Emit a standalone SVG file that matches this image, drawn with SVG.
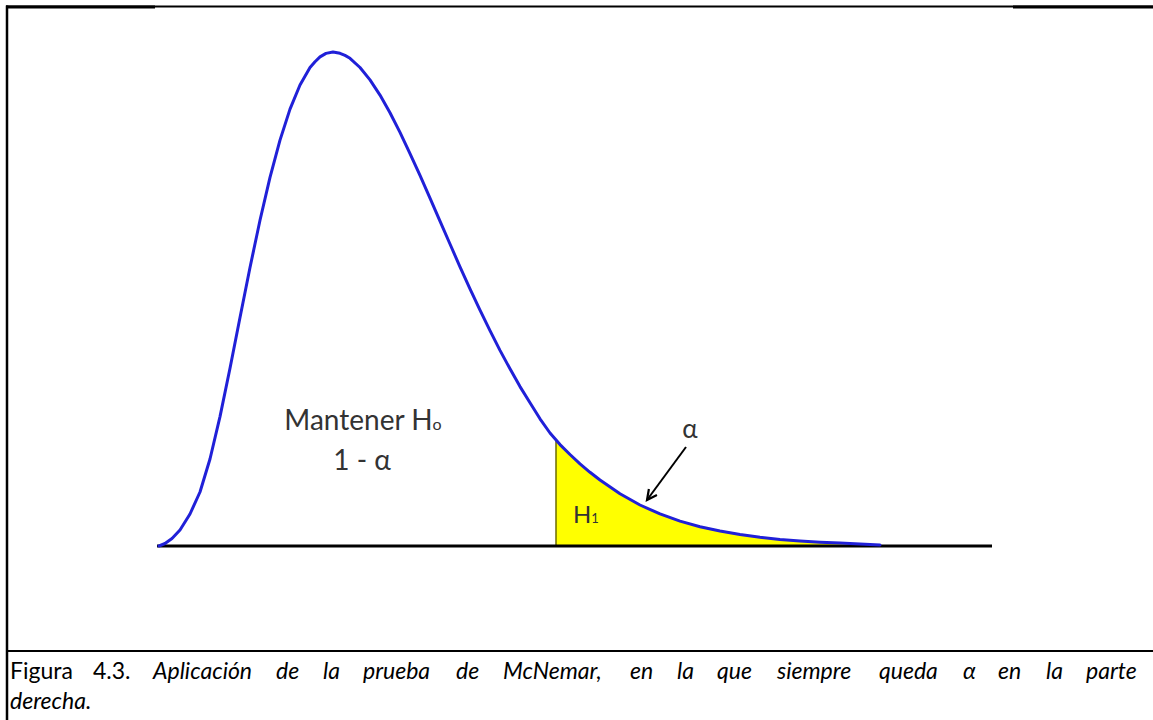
<svg xmlns="http://www.w3.org/2000/svg" width="1153" height="720" viewBox="0 0 1153 720">
<defs>
<style>
.frame{stroke:#000;fill:none}
.curve{stroke:#2020d8;stroke-width:3;fill:none;stroke-linejoin:round;stroke-linecap:round}
.base{stroke:#000;stroke-width:3;fill:none}
.lbl{font-family:Lato,"Liberation Sans",sans-serif;fill:#333}
.cap{font-family:Lato,"Liberation Sans",sans-serif;font-size:23px;fill:#000}
.it{font-style:italic}
</style>
<marker id="ah" markerWidth="14" markerHeight="14" refX="11" refY="6" orient="auto" markerUnits="userSpaceOnUse">
<path d="M1,1 L11,6 L1,11" fill="none" stroke="#000" stroke-width="2.2"/>
</marker>
</defs>
<rect width="1153" height="720" fill="#fff"/>
<g id="frame">
<line class="frame" x1="6" y1="6.5" x2="1153" y2="6.5" stroke-width="2"/>
<line class="frame" x1="6" y1="7" x2="155" y2="7" stroke-width="3"/>
<line class="frame" x1="1013" y1="7" x2="1153" y2="7" stroke-width="3"/>
<line class="frame" x1="7" y1="5.5" x2="7" y2="720" stroke-width="2.5"/>
<line class="frame" x1="6" y1="651" x2="1153" y2="651" stroke-width="2"/>
</g>
<g id="tail-area">
<path d="M556,546 L556,440 L560,444.6 L570,454.5 L580,463.8 L590,472.3 L600,480 L620,493.8 L640,505 L660,513.9 L680,521.1 L700,526.7 L720,531 L740,534.6 L760,537.3 L780,539.4 L800,541 L820,542.2 L840,543.1 L860,543.9 L870,546 Z" fill="#ffff00"/>
<line x1="556" y1="440" x2="556" y2="546" stroke="#6b6b00" stroke-width="1.5"/>
</g>
<g id="axis">
<line class="base" x1="157" y1="546" x2="992" y2="546"/>
</g>
<g id="curve">
<path class="curve" d="M159,546 L165,543.5 L172,538.5 L180,530 L190,514 L200,492 L210,459 L220,416.6 L230,368.2 L240,317.5 L250,267.5 L260,220.3 L270,177.4 L280,140.1 L290,109.1 L300,85 L310,67.6 L315,61.8 L320,56.9 L326,53.4 L333,52 L340,53.3 L345,55.4 L350,58.3 L360,67.5 L370,79.9 L380,95.1 L390,112.8 L400,132.4 L410,153.6 L420,175.4 L430,198.2 L440,221.2 L450,244 L460,266.9 L470,288.8 L480,310.2 L490,330.6 L500,350.4 L510,368.8 L520,386.6 L530,402.8 L540,418.8 L550,433 L560,444.6 L570,454.5 L580,463.8 L590,472.3 L600,480 L620,493.8 L640,505 L660,513.9 L680,521.1 L700,526.7 L720,531 L740,534.6 L760,537.3 L780,539.4 L800,541 L820,542.2 L840,543.1 L860,543.9 L880,545"/>
</g>
<g id="labels">
<text class="lbl" x="363" y="430" font-size="28" text-anchor="middle">Mantener H<tspan font-size="16">o</tspan></text>
<text class="lbl" x="362" y="470" font-size="28" text-anchor="middle">1 - α</text>
<text class="lbl" x="573" y="523" font-size="24">H<tspan font-size="13">1</tspan></text>
<text class="lbl" x="690" y="438" font-size="26" text-anchor="middle">α</text>
</g>
<g id="connectors">
<line x1="686" y1="447" x2="647" y2="500" stroke="#000" stroke-width="2" marker-end="url(#ah)"/>
</g>
<g id="caption">
<text class="cap" y="679"><tspan x="10">Figura</tspan><tspan x="93">4.3.</tspan><tspan class="it" x="153">Aplicación</tspan><tspan class="it" x="276">de</tspan><tspan class="it" x="323">la</tspan><tspan class="it" x="363">prueba</tspan><tspan class="it" x="456">de</tspan><tspan class="it" x="503">McNemar,</tspan><tspan class="it" x="630">en</tspan><tspan class="it" x="677">la</tspan><tspan class="it" x="717">que</tspan><tspan class="it" x="777">siempre</tspan><tspan class="it" x="879">queda</tspan><tspan class="it" x="963">α</tspan><tspan class="it" x="998">en</tspan><tspan class="it" x="1046">la</tspan><tspan class="it" x="1086">parte</tspan></text>
<text class="cap it" x="10" y="709">derecha.</text>
</g>
</svg>
